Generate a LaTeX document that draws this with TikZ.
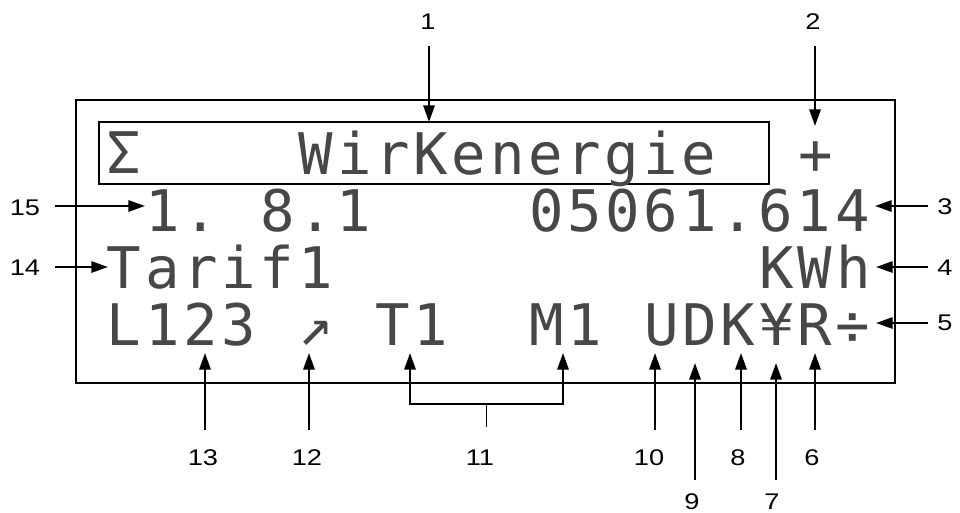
\documentclass[tikz,border=0pt]{standalone}
\usepackage{fontspec}
\setmainfont[FakeStretch=1.2]{Liberation Sans}
\newfontfamily\lcdfont[LetterSpace=6.5]{DejaVu Sans Mono}
\usetikzlibrary{arrows.meta}
\begin{document}
\begin{tikzpicture}[x=0.75pt,y=-0.75pt,
  lcd/.style={anchor=base west, inner sep=0pt, font=\lcdfont\fontsize{43}{43}\selectfont, text=black!72},
  num/.style={inner sep=0pt, font=\fontsize{17}{17}\selectfont},
  arr/.style={line width=1.65pt, -{Triangle[length=12.5pt,width=8.5pt]}},
  barr/.style={line width=1.65pt, {Triangle[length=12.5pt,width=8.5pt]}-{Triangle[length=12.5pt,width=8.5pt]}},
  outerbox/.style={draw, line width=1.5pt, inner sep=0pt, minimum width=614.25pt, minimum height=212.25pt},
  titlebox/.style={draw, line width=0.9pt, inner sep=0pt, minimum width=502.5pt, minimum height=46.5pt}]
\useasboundingbox (0,0) rectangle (960,513);

% display frames
\node[outerbox] (disp) at (485.5,241.5) {};
\node[titlebox] (title) at (434,153) {};

% LCD text (columns: x = 106.65 + 38.4*col)
\node[lcd] (sig)   at (106.65,174) {Σ};
\node[lcd] (wirk)  at (298.65,175) {WirKenergie};
\node[lcd] (plus)  at (797.85,175) {+};
\node[lcd] (obis1) at (145.05,232) {1.};
\node[lcd] (obis2) at (260.25,232) {8.1};
\node[lcd] (val)   at (529.05,232) {05061.614};
\node[lcd] (tar)   at (106.65,289) {Tarif1};
\node[lcd] (unit)  at (759.45,289) {KWh};
\node[lcd] (phase) at (106.65,345) {L123};
\node[lcd] (dir)   at (298.65,345) {↗};
\node[lcd] (tt)    at (375.45,345) {T1};
\node[lcd] (mm)    at (529.05,345) {M1};
\node[lcd] (stat)  at (644.25,345) {UDK¥R÷};

% labels
\node[num] (n1)  at (428,22)  {1};
\node[num] (n2)  at (813,22)  {2};
\node[num] (n15) at (25,208)  {15};
\node[num] (n14) at (25,268)  {14};
\node[num] (n3)  at (945,207) {3};
\node[num] (n4)  at (945,268) {4};
\node[num] (n5)  at (945,323) {5};
\node[num] (n13) at (203,458) {13};
\node[num] (n12) at (307,458) {12};
\node[num] (n11) at (480,458) {11};
\node[num] (n10) at (649,458) {10};
\node[num] (n8)  at (738,458) {8};
\node[num] (n6)  at (812,458) {6};
\node[num] (n9)  at (692,502) {9};
\node[num] (n7)  at (772,502) {7};

% arrow end points
\coordinate (s1) at (429,46);   \coordinate (t1) at (429,122);
\coordinate (s2) at (815,46);   \coordinate (t2) at (815,126);
\coordinate (s15) at (55,206);  \coordinate (t15) at (145,206);
\coordinate (s14) at (55,267);  \coordinate (t14) at (108,267);
\coordinate (s3) at (928,206);  \coordinate (t3) at (875,206);
\coordinate (s4) at (928,267);  \coordinate (t4) at (876,267);
\coordinate (s5) at (928,323);  \coordinate (t5) at (876,323);
\coordinate (s13) at (205,430); \coordinate (t13) at (205,353);
\coordinate (s12) at (309,430); \coordinate (t12) at (309,353);
\coordinate (t11a) at (410,353); \coordinate (c11a) at (410,404);
\coordinate (c11b) at (563,404); \coordinate (t11b) at (563,353);
\coordinate (c11m) at (486,404); \coordinate (s11) at (486,427);
\coordinate (s10) at (655,430); \coordinate (t10) at (655,353);
\coordinate (s9) at (695,480);  \coordinate (t9) at (695,363);
\coordinate (s8) at (741,430);  \coordinate (t8) at (741,353);
\coordinate (s7) at (776,480);  \coordinate (t7) at (776,363);
\coordinate (s6) at (815,430);  \coordinate (t6) at (815,353);

% arrows
\draw[arr] (s1) -- (t1);
\draw[arr] (s2) -- (t2);
\draw[arr] (s15) -- (t15);
\draw[arr] (s14) -- (t14);
\draw[arr] (s3) -- (t3);
\draw[arr] (s4) -- (t4);
\draw[arr] (s5) -- (t5);
\draw[arr] (s13) -- (t13);
\draw[arr] (s12) -- (t12);
\draw[barr] (t11a) -- (c11a) -- (c11b) -- (t11b);
\draw[line width=0.75pt] (c11m) -- (s11);
\draw[arr] (s10) -- (t10);
\draw[arr] (s9) -- (t9);
\draw[arr] (s8) -- (t8);
\draw[arr] (s7) -- (t7);
\draw[arr] (s6) -- (t6);
\end{tikzpicture}
\end{document}
